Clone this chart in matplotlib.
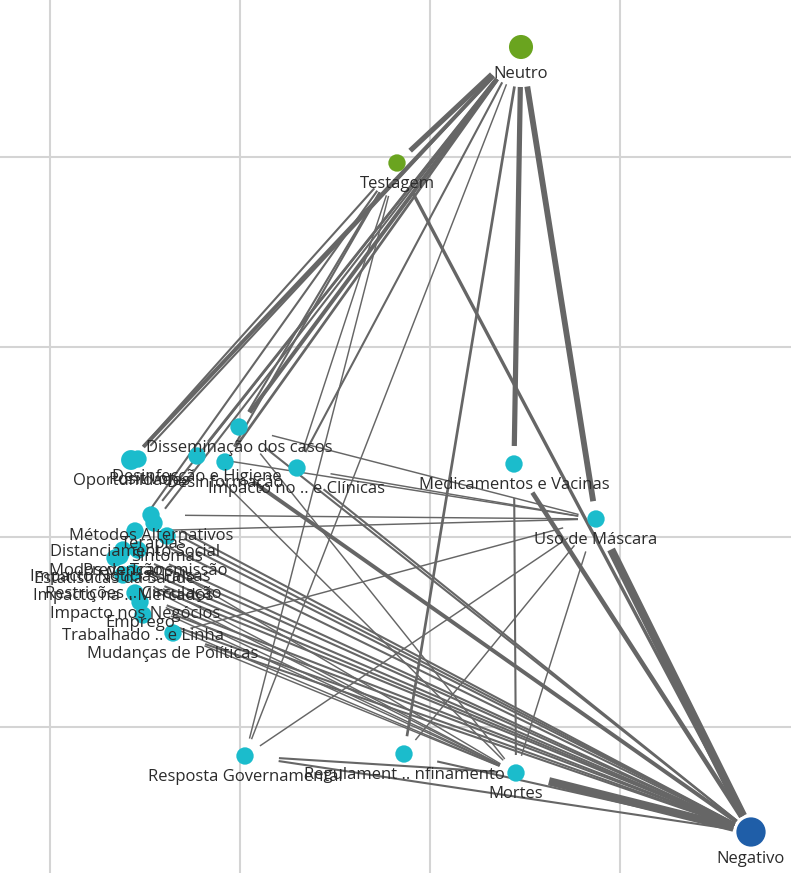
import matplotlib.pyplot as plt
import numpy as np

plt.rcParams['font.family'] = ['Open Sans', 'DejaVu Sans']

# node layout (layout units, y grows downward)
nodes = ['Neutro', 'Testagem', 'Negativo',
         'Medicamentos e Vacinas', 'Uso de Máscara', 'Mortes',
         'Regulament .. nfinamento', 'Resposta Governamental',
         'Disseminação dos casos', 'Desinfecção e Higiene', 'Desinformação',
         'Impacto no .. e Clínicas', 'Oportunidades', 'Positivo',
         'Métodos Alternativos', 'Terapias', 'Distanciamento Social',
         'Sintomas', 'Modos de Transmissão', 'Prevenção',
         'Estatísticas da Saúde', 'Impacto Notícias Falsas',
         'Restrições .. Circulação', 'Impacto na .. Mercados',
         'Impacto nos Negócios', 'Emprego', 'Trabalhado .. e Linha',
         'Mudanças de Políticas']
layout_x = [521, 397, 751, 514, 596, 516, 404, 245, 239, 197, 225, 297, 131, 138,
            151, 154, 135, 167, 138, 123, 115, 120, 133, 123, 135, 140, 143, 173]
layout_y = [47, 163, 832, 464, 519, 773, 754, 756, 427, 456, 462, 468, 460, 459,
            515, 523, 531, 536, 550, 550, 558, 556, 573, 575, 593, 602, 615, 633]
node_group = ['neutro', 'tema', 'negativo'] + ['topico'] * 25
node_weight = [5, 2, 8, 2, 2, 2, 2, 2, 2, 2, 2, 2, 3, 2,
               2, 2, 2, 2, 2, 2, 2, 2, 2, 2, 2, 2, 2, 2]

# edges: (source, target, weight)
edges = [
    ('Neutro', 'Testagem', 7), ('Neutro', 'Medicamentos e Vacinas', 7),
    ('Neutro', 'Uso de Máscara', 8), ('Neutro', 'Regulament .. nfinamento', 3),
    ('Neutro', 'Oportunidades', 5), ('Neutro', 'Disseminação dos casos', 5),
    ('Neutro', 'Desinfecção e Higiene', 3), ('Neutro', 'Desinformação', 3),
    ('Neutro', 'Impacto no .. e Clínicas', 2), ('Neutro', 'Métodos Alternativos', 2),
    ('Neutro', 'Positivo', 2), ('Neutro', 'Terapias', 2),
    ('Neutro', 'Resposta Governamental', 1),
    ('Testagem', 'Negativo', 4), ('Testagem', 'Oportunidades', 2),
    ('Testagem', 'Disseminação dos casos', 2), ('Testagem', 'Desinformação', 2),
    ('Testagem', 'Distanciamento Social', 2), ('Testagem', 'Impacto no .. e Clínicas', 1),
    ('Testagem', 'Resposta Governamental', 1),
    ('Uso de Máscara', 'Negativo', 12), ('Medicamentos e Vacinas', 'Negativo', 6),
    ('Mortes', 'Negativo', 12), ('Regulament .. nfinamento', 'Negativo', 2),
    ('Resposta Governamental', 'Negativo', 2), ('Desinformação', 'Negativo', 5),
    ('Impacto no .. e Clínicas', 'Negativo', 2), ('Disseminação dos casos', 'Negativo', 2),
    ('Métodos Alternativos', 'Negativo', 2), ('Distanciamento Social', 'Negativo', 2),
    ('Sintomas', 'Negativo', 2), ('Modos de Transmissão', 'Negativo', 2),
    ('Prevenção', 'Negativo', 2), ('Estatísticas da Saúde', 'Negativo', 2),
    ('Restrições .. Circulação', 'Negativo', 2), ('Impacto na .. Mercados', 'Negativo', 2),
    ('Impacto nos Negócios', 'Negativo', 2), ('Emprego', 'Negativo', 2),
    ('Trabalhado .. e Linha', 'Negativo', 2), ('Mudanças de Políticas', 'Negativo', 2),
    ('Terapias', 'Negativo', 2),
    ('Desinfecção e Higiene', 'Uso de Máscara', 1), ('Impacto no .. e Clínicas', 'Uso de Máscara', 1),
    ('Métodos Alternativos', 'Uso de Máscara', 1), ('Distanciamento Social', 'Uso de Máscara', 1),
    ('Disseminação dos casos', 'Uso de Máscara', 1),
    ('Uso de Máscara', 'Mortes', 1), ('Uso de Máscara', 'Resposta Governamental', 1),
    ('Uso de Máscara', 'Regulament .. nfinamento', 1), ('Uso de Máscara', 'Mudanças de Políticas', 1),
    ('Medicamentos e Vacinas', 'Mortes', 2), ('Resposta Governamental', 'Mortes', 2),
    ('Desinfecção e Higiene', 'Mortes', 1), ('Disseminação dos casos', 'Mortes', 1),
    ('Restrições .. Circulação', 'Mortes', 1), ('Impacto na .. Mercados', 'Mortes', 1),
    ('Impacto nos Negócios', 'Mortes', 1), ('Emprego', 'Mortes', 1),
    ('Trabalhado .. e Linha', 'Mortes', 1), ('Mudanças de Políticas', 'Mortes', 1),
    ('Modos de Transmissão', 'Mortes', 1),
]

colors = {'neutro': '#6aa41f', 'tema': '#6aa41f', 'negativo': '#1f5ea8', 'topico': '#1bbccc'}

fig = plt.figure(figsize=(7.91, 8.73), dpi=100)
ax = fig.add_axes([0, 0, 1, 1])
ax.set_xlim(0, 791)
ax.set_ylim(873, 0)

ax.set_xticks([50, 240, 430, 620])
ax.set_yticks([157, 347, 537, 727])
ax.grid(True, color='#d4d4d4', linewidth=1.5)
ax.tick_params(length=0, labelbottom=False, labelleft=False)
for s in ax.spines.values():
    s.set_visible(False)
ax.set_axisbelow(True)

pos = {n: (x, y) for n, x, y in zip(nodes, layout_x, layout_y)}

for a, b, w in edges:
    p = np.array(pos[a], float)
    q = np.array(pos[b], float)
    d = q - p
    L = np.hypot(*d)
    gap = 40 if a == 'Neutro' else 34
    start = p + d * (gap / L)
    end = q - d * (18 / L)
    ax.plot([start[0], end[0]], [start[1], end[1]], color='#666666',
            linewidth=0.6 + 0.45 * w, solid_capstyle='butt', zorder=2)

sizes = [60 + 48 * w for w in node_weight]
ax.scatter(layout_x, layout_y, s=sizes, c=[colors[g] for g in node_group],
           linewidths=0, zorder=3)

for n, x, y in zip(nodes, layout_x, layout_y):
    off = 27 if n in ('Neutro', 'Negativo') else 21
    ax.text(x, y + off, n, ha='center', va='center', fontsize=12,
            color='#2b2b2b', zorder=4)

fig.savefig('out.png', dpi=100)
